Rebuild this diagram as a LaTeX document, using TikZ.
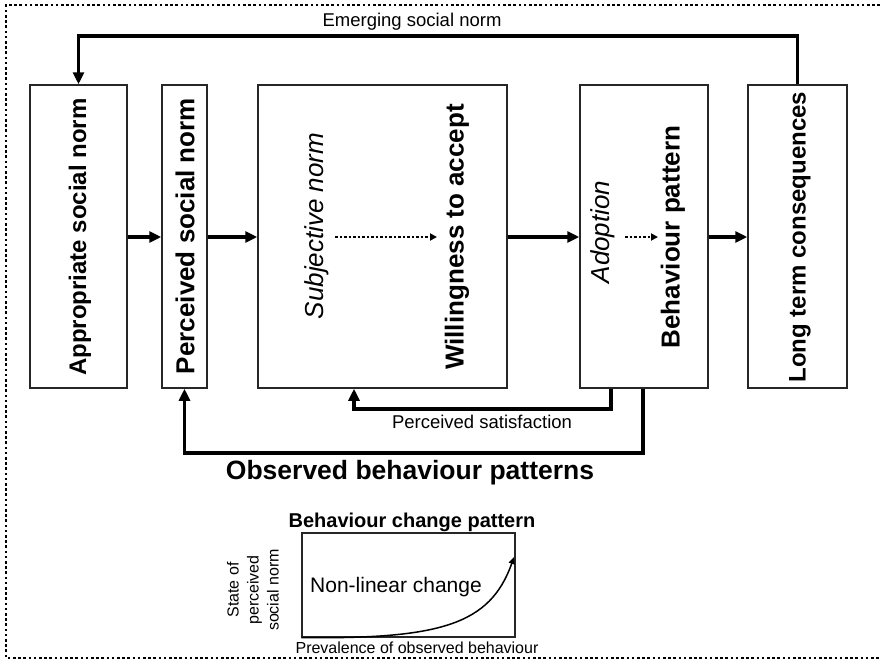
\documentclass[tikz,border=0pt]{standalone}
\usepackage{fontspec}
\setmainfont{Liberation Sans}
\usetikzlibrary{arrows.meta}
\usetikzlibrary{positioning}

\begin{document}
\begin{tikzpicture}[x=1pt, y=-1pt,
    stage/.style={draw=black!85, line width=1.5pt, rectangle, minimum height=303pt, inner sep=0pt},
    boldlabel/.style={rotate=90, inner sep=0pt, font=\fontsize{#1}{#1}\selectfont\bfseries},
    slantlabel/.style={rotate=90, inner sep=0pt, font=\fontsize{26}{26}\selectfont\itshape},
    flow/.style={-{Triangle[length=12pt,width=11pt]}, line width=3.2pt},
    hint/.style={-{Triangle[length=7pt,width=7pt]}, line width=2.5pt, dash pattern=on 2.5pt off 2pt}]
    \useasboundingbox (0,0) rectangle (880,664);

    % dotted frame, open on the right
    \draw[line width=2.6pt, dash pattern=on 2.6pt off 2.6pt] (880,5) -- (6,5) -- (6,658) -- (880,658);

    % Stage boxes
    \node[stage, minimum width=97pt] (app) at (78.5,236.5) {};
    \node[stage, minimum width=45pt] (perc) at (184.5,236.5) {};
    \node[stage, minimum width=249pt] (subj) at (382.5,236.5) {};
    \node[stage, minimum width=128pt] (beh) at (644,236.5) {};
    \node[stage, minimum width=99pt] (cons) at (797.5,236.5) {};

    % Box texts
    \node[boldlabel=24] (apptext) at (80,237) {Appropriate social norm};
    \node[boldlabel=26] (perctext) at (185,236) {Perceived social norm};
    \node[slantlabel] (subjtext) at (317,226) {Subjective norm};
    \node[boldlabel=26] (willtext) at (457,237) {Willingness to accept};
    \node[slantlabel] (adopttext) at (603,232) {Adoption};
    \node[boldlabel=26] (behtext) at (673,237) {Behaviour pattern};
    \node[boldlabel=24] (constext) at (800,237) {Long term consequences};

    % dotted links inside the boxes
    \coordinate (subjend) at (335,237);
    \coordinate (willend) at (437,237);
    \coordinate (adoptend) at (625,237);
    \coordinate (behend) at (658,237);
    \draw[hint] (subjend) -- (willend);
    \draw[hint] (adoptend) -- (behend);

    % Main chain
    \draw[flow] (app.east |- 0,237) -- (perc.west |- 0,237);
    \draw[flow] (perc.east |- 0,237) -- (subj.west |- 0,237);
    \draw[flow] (subj.east |- 0,237) -- (beh.west |- 0,237);
    \draw[flow] (beh.east |- 0,237) -- (cons.west |- 0,237);

    % Feedback loops
    \coordinate (emline) at (440,36);
    \draw[flow] (cons.north) -- (cons.north |- emline) -| (app.north);
    \node[font=\fontsize{18.5}{20}\selectfont] (emerge) at (412,22) {Emerging social norm};

    \coordinate (satout) at (611,409);
    \coordinate (satin) at (354,409);
    \draw[flow] (beh.south -| satout) -- (satout) -- (satin) -- (subj.south -| satin);
    \node[font=\fontsize{18.5}{20}\selectfont] (satlabel) at (482,422) {Perceived satisfaction};

    \coordinate (obsout) at (643,453);
    \draw[flow] (beh.south -| obsout) -- (obsout) -| (perc.south);
    \node[font=\fontsize{26.5}{28}\selectfont\bfseries] (obslabel) at (410,473) {Observed behaviour patterns};

    % Small chart
    \node[font=\fontsize{20}{22}\selectfont\bfseries] (charttitle) at (412,522) {Behaviour change pattern};
    \node[draw=black!85, line width=1.3pt, minimum width=213pt, minimum height=104pt, inner sep=0pt] (chart) at (408.5,585) {};
    \node[font=\fontsize{21}{22}\selectfont] (curvetext) at (396,587) {Non-linear change};
    \node[rotate=90, align=center, font=\fontsize{16}{20}\selectfont] (ylabel) at (253,590) {State of\\perceived\\social norm};
    \node[font=\fontsize{16}{18}\selectfont] (xlabel) at (417,648) {Prevalence of observed behaviour};
    \coordinate (curveend) at (514,557);
    \draw[-{Triangle[length=7pt,width=6pt]}, line width=1.5pt] (chart.south west) .. controls (440,639) and (490,625) .. (curveend);
\end{tikzpicture}
\end{document}
